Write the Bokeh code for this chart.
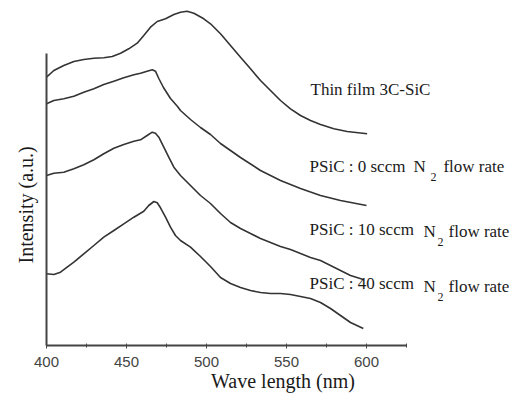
from bokeh.plotting import figure
from bokeh.models import Range1d, FixedTicker, Label, Title
from bokeh.embed import file_html
from bokeh.resources import INLINE

# ---- data ----
wl_film = [400, 404.6, 410.8, 417.1, 423.3, 429.6, 435.8, 441.1, 446.3, 451.4, 456.7, 460.8, 465,
           469.2, 474.4, 479.6, 483.75, 487.9, 492.1, 498.3, 502.5, 508.75, 515, 521.25, 527.5,
           533.75, 540, 546.25, 552.5, 558.75, 565, 571.25, 579.6, 587.9, 600.4]
int_film = [268.3, 275, 280, 284, 286, 287.3, 287.7, 289, 292.3, 296.7, 302.3, 310, 318.3,
            324, 326.7, 331, 333.3, 334.3, 332.3, 326.7, 321.7, 311.7, 300, 288.3, 276.7,
            265, 255, 245, 236.7, 230, 225, 221, 216.7, 214, 211.7]

wl_0 = [400, 404.6, 410.8, 417.1, 423.3, 429.6, 435.8, 442.1, 448.3, 454.6, 458.75, 462.9, 466.1,
        468.1, 470.2, 473.1, 477.5, 481.9, 483.75, 490, 496.25, 502.5, 508.75, 521.25, 533.75,
        546.25, 558.75, 571.25, 583.75, 600]
int_0 = [241.7, 245, 246.7, 249.3, 253.3, 256.7, 261, 264.3, 267.7, 270.7, 272.3, 274.3, 275.7,
         274.3, 267, 258, 247, 239, 235, 226, 218, 211, 202, 188, 175,
         165, 157, 150, 145, 140]

wl_10 = [400, 404.6, 410.8, 417.1, 423.3, 429.6, 435.8, 442.1, 448.3, 454.6, 458.75, 462.9, 466.1,
         468.1, 470.2, 473.3, 476.4, 479.6, 483.75, 490, 496.25, 502.5, 508.75, 515, 521.25, 527.5,
         533.75, 540, 546.25, 552.5, 558.75, 565, 571.25, 577.5, 583.75, 590, 598]
int_10 = [170, 172.3, 173.3, 176.7, 180.7, 185.7, 191.7, 197.3, 201, 204.3, 205.7, 210, 213.3,
          212.3, 208.3, 198.3, 188.3, 178.3, 170, 160, 150, 142, 132, 123, 117, 112,
          107, 103, 99, 96, 92, 88, 85, 80, 75, 70, 66]

wl_40 = [400, 404.6, 408.75, 412.9, 417.1, 423.3, 429.6, 435.8, 442.1, 448.3, 454.6, 460.8, 463.9,
         467.1, 469.2, 471.25, 474.4, 477.5, 480.6, 483.75, 490, 496.25, 502.5, 508.75, 515, 521.25,
         527.5, 533.75, 540, 546.25, 552.5, 558.75, 565, 571.25, 577.5, 583.75, 590, 598]
int_40 = [71.7, 71, 73.3, 78.3, 83.3, 91.7, 100, 108.3, 115, 121.7, 128.3, 134.3, 140,
          144, 142.7, 137.7, 128.3, 118.3, 110, 105, 98.3, 89, 79, 68, 62, 58,
          55, 53, 52, 52, 51, 49, 47, 43, 37, 30, 23, 17]

x_ticks = [400, 450, 500, 550, 600]
x_minor = [425, 475, 525, 575, 625]

series_labels = ["Thin film 3C-SiC", "PSiC : 0 sccm", "PSiC : 10 sccm", "PSiC : 40 sccm"]

# ---- figure ----
p = figure(width=519, height=397, output_backend="svg", toolbar_location=None,
           x_range=Range1d(400, 695.625), y_range=Range1d(0, 337),
           min_border_left=46, min_border_right=0, min_border_top=8, min_border_bottom=52)
p.outline_line_color = None
p.xgrid.visible = False
p.ygrid.visible = False
p.background_fill_color = "white"

line_color = "#333333"
for xs, ys in [(wl_film, int_film), (wl_0, int_0), (wl_10, int_10), (wl_40, int_40)]:
    p.line(xs, ys, line_color=line_color, line_width=1.6, line_join="round")

serif = "Liberation Serif"
tc = "#1a1a1a"

xa = p.xaxis[0]
xa.ticker = FixedTicker(ticks=x_ticks, minor_ticks=x_minor)
xa.bounds = (400, 625)
xa.axis_line_color = "#444444"
xa.axis_line_width = 2
xa.major_tick_line_color = "#444444"
xa.minor_tick_line_color = "#444444"
xa.major_tick_in = 2
xa.major_tick_out = 3
xa.minor_tick_in = 2
xa.minor_tick_out = 2
xa.major_label_standoff = 8
xa.major_label_text_font = "Liberation Sans"
xa.major_label_text_font_size = "15px"
xa.major_label_text_color = "#444444"
xa.axis_label = "Wave length (nm)"
xa.axis_label_text_font = serif
xa.axis_label_text_font_size = "20px"
xa.axis_label_text_font_style = "normal"
xa.axis_label_text_color = tc
xa.axis_label_standoff = 0

ya = p.yaxis[0]
ya.ticker = FixedTicker(ticks=[])
ya.bounds = (0, 292)
ya.axis_line_color = "#444444"
ya.axis_line_width = 2
ya.major_tick_in = 0
ya.major_tick_out = 0
ya.minor_tick_in = 0
ya.minor_tick_out = 0

# y-axis title, centred on the drawn axis extent rather than the frame
p.add_layout(Title(text="Intensity (a.u.)", align="left", offset=82, vertical_align="middle",
                   standoff=17, text_font=serif, text_font_size="20px",
                   text_font_style="normal", text_color=tc), "left")


def lab(x, y, text, size="17px", **kw):
    p.add_layout(Label(x=x, y=y, text=text, text_font=serif, text_font_size=size,
                       text_color=tc, **kw))


# series labels
lab(565, 247, series_labels[0])
lab(564.4, 170, series_labels[1])
lab(629.4, 170, "N")
lab(640.0, 165, "2", size="12px")
lab(648.1, 170, "flow rate")

lab(564.4, 107, series_labels[2])
lab(635.6, 105, "N")
lab(644.4, 100, "2", size="12px")
lab(651.25, 105, "flow rate")

lab(564.4, 53, series_labels[3])
lab(635.6, 50, "N")
lab(644.4, 45, "2", size="12px")
lab(651.25, 50, "flow rate")

open("out.html", "w").write(file_html(p, INLINE))
